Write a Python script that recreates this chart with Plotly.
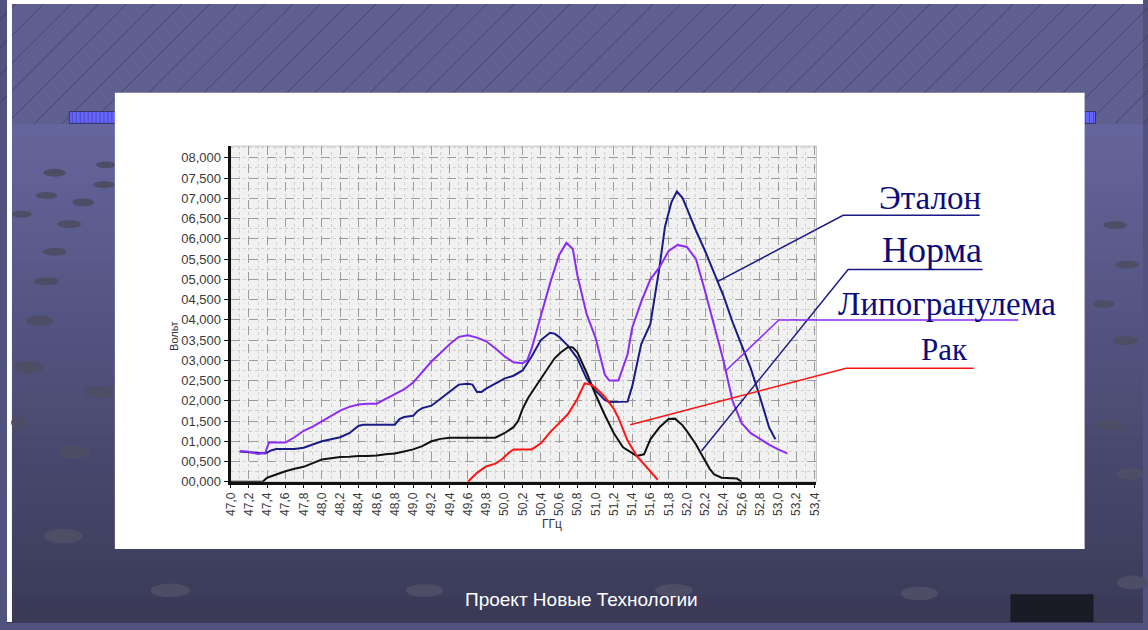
import plotly.graph_objects as go

# ---- spectra (GHz vs volts) ----
etalon_x = [47.1, 47.2, 47.3, 47.38, 47.45, 47.5, 47.7, 47.8, 47.9, 48.0, 48.1, 48.2, 48.3, 48.4, 48.45,
            48.8, 48.85, 48.9, 49.0, 49.05, 49.1, 49.2, 49.3, 49.4, 49.5, 49.6, 49.65, 49.7, 49.75, 49.8,
            49.9, 50.0, 50.1, 50.2, 50.3, 50.4, 50.5, 50.55, 50.6, 50.7, 50.8, 50.9, 51.0, 51.1, 51.15,
            51.3, 51.35, 51.4, 51.5, 51.6, 51.7, 51.76, 51.83, 51.89, 51.95, 52.0, 52.1, 52.2, 52.3, 52.4,
            52.5, 52.6, 52.7, 52.8, 52.9, 52.97]
etalon_y = [0.75, 0.73, 0.70, 0.70, 0.78, 0.81, 0.81, 0.84, 0.92, 1.00, 1.05, 1.10, 1.20, 1.38, 1.41,
            1.41, 1.55, 1.60, 1.63, 1.75, 1.82, 1.88, 2.05, 2.22, 2.40, 2.42, 2.40, 2.22, 2.22, 2.30,
            2.42, 2.55, 2.62, 2.75, 3.10, 3.50, 3.68, 3.66, 3.58, 3.35, 3.05, 2.55, 2.25, 2.02, 1.97,
            1.97, 1.98, 2.35, 3.40, 3.90, 5.30, 6.30, 6.90, 7.17, 7.02, 6.75, 6.20, 5.70, 5.15, 4.60,
            3.95, 3.35, 2.80, 2.10, 1.35, 1.05]

norma_x = [47.0, 47.35, 47.4, 47.5, 47.6, 47.7, 47.8, 47.9, 48.0, 48.1, 48.2, 48.3, 48.4, 48.5, 48.6,
           48.7, 48.8, 48.9, 49.0, 49.1, 49.2, 49.3, 49.4, 49.9, 50.0, 50.1, 50.15, 50.2, 50.26, 50.33,
           50.4, 50.48, 50.55, 50.62, 50.7, 50.75, 50.8, 50.9, 51.0, 51.1, 51.2, 51.3, 51.4, 51.45,
           51.53, 51.6, 51.7, 51.8, 51.87, 51.95, 52.0, 52.1, 52.15, 52.25, 52.3, 52.38, 52.55, 52.6]
norma_y = [0.0, 0.0, 0.10, 0.18, 0.26, 0.32, 0.37, 0.46, 0.55, 0.58, 0.61, 0.62, 0.64, 0.64, 0.65,
           0.68, 0.70, 0.75, 0.80, 0.88, 1.00, 1.06, 1.09, 1.09, 1.20, 1.35, 1.50, 1.80, 2.07, 2.31,
           2.55, 2.80, 3.05, 3.20, 3.33, 3.32, 3.20, 2.70, 2.15, 1.65, 1.20, 0.85, 0.70, 0.64,
           0.68, 1.05, 1.35, 1.55, 1.56, 1.40, 1.25, 0.92, 0.72, 0.32, 0.18, 0.10, 0.08, 0.0]

lipo_x = [47.1, 47.2, 47.3, 47.38, 47.42, 47.6, 47.7, 47.8, 47.9, 48.0, 48.1, 48.2, 48.3, 48.4, 48.5,
          48.6, 48.7, 48.8, 48.9, 49.0, 49.1, 49.2, 49.3, 49.4, 49.5, 49.6, 49.7, 49.8, 49.9, 50.0,
          50.1, 50.2, 50.25, 50.3, 50.4, 50.5, 50.6, 50.68, 50.75, 50.8, 50.9, 51.0, 51.1, 51.15, 51.25,
          51.3, 51.35, 51.4, 51.5, 51.6, 51.7, 51.8, 51.9, 52.0, 52.1, 52.2, 52.3, 52.4, 52.5, 52.6,
          52.7, 52.8, 52.9, 53.0, 53.1]
lipo_y = [0.76, 0.74, 0.69, 0.72, 0.97, 0.97, 1.10, 1.26, 1.36, 1.50, 1.62, 1.76, 1.85, 1.91, 1.93,
          1.93, 2.05, 2.17, 2.28, 2.45, 2.70, 2.97, 3.18, 3.40, 3.58, 3.62, 3.56, 3.47, 3.30, 3.10,
          2.95, 2.93, 3.00, 3.30, 4.10, 4.90, 5.60, 5.90, 5.75, 5.10, 4.15, 3.55, 2.65, 2.50, 2.50,
          2.85, 3.15, 3.80, 4.45, 5.00, 5.30, 5.70, 5.85, 5.80, 5.50, 4.70, 3.85, 3.00, 2.00, 1.45,
          1.20, 1.05, 0.92, 0.80, 0.70]

rak_x = [49.6, 49.7, 49.8, 49.9, 49.97, 50.05, 50.1, 50.3, 50.4, 50.5, 50.6, 50.7, 50.8, 50.88,
         50.95, 51.0, 51.1, 51.15, 51.2, 51.25, 51.3, 51.35, 51.45, 51.55, 51.62, 51.68]
rak_y = [0.0, 0.22, 0.38, 0.45, 0.55, 0.72, 0.80, 0.80, 0.95, 1.22, 1.45, 1.68, 2.05, 2.43,
         2.40, 2.32, 2.10, 1.95, 1.80, 1.58, 1.30, 1.02, 0.64, 0.38, 0.20, 0.05]

series_names = ["Эталон", "Норма", "Липогранулема", "Рак"]

# ---- axis ticks ----
x_tickvals = [round(47.0 + 0.2 * i, 1) for i in range(33)]
x_ticktext = [f"{v:.1f}".replace(".", ",") for v in x_tickvals]
y_tickvals = [0.5 * i for i in range(17)]
y_ticktext = [f"{v:06.3f}".replace(".", ",") for v in y_tickvals]

W, H = 1148, 630
X_RANGE = [47.0, 53.42]
Y_RANGE = [0.0, 8.29]
X_DOM = [226 / W, 818 / W]
Y_DOM = [1 - 488 / H, 1 - 148 / H]


def px(x):
    return x / W


def py(y):
    return 1 - y / H


def data_to_paper(x, y):
    xp = X_DOM[0] + (x - X_RANGE[0]) / (X_RANGE[1] - X_RANGE[0]) * (X_DOM[1] - X_DOM[0])
    yp = Y_DOM[0] + (y - Y_RANGE[0]) / (Y_RANGE[1] - Y_RANGE[0]) * (Y_DOM[1] - Y_DOM[0])
    return xp, yp


def hexmix(c1, c2, t):
    a = [int(c1[i:i + 2], 16) for i in (1, 3, 5)]
    b = [int(c2[i:i + 2], 16) for i in (1, 3, 5)]
    return "#" + "".join(f"{round(a[k] + (b[k] - a[k]) * t):02x}" for k in range(3))


shapes = []


def rect(x0, y0, x1, y1, color, line=None):
    shapes.append(dict(type="rect", xref="paper", yref="paper", layer="below",
                       x0=px(x0), x1=px(x1), y0=py(y1), y1=py(y0),
                       fillcolor=color, line=line or dict(width=0)))


def seg(x0, y0, x1, y1, color, width=1):
    shapes.append(dict(type="line", xref="paper", yref="paper", layer="below",
                       x0=px(x0), x1=px(x1), y0=py(y0), y1=py(y1),
                       line=dict(color=color, width=width)))


# slide background: vertical gradient bands
n_bands = 40
top, bottom = 125, 630
for i in range(n_bands):
    y0 = top + (bottom - top) * i / n_bands
    y1 = top + (bottom - top) * (i + 1) / n_bands + 1
    rect(0, y0, W, y1, hexmix("#65659d", "#3a3a57", i / (n_bands - 1)))

# hatched title band
rect(0, 4, W, 125, "#5f5f90")
for k in range(-6, 44):
    x0 = k * 28
    seg(x0, 125, x0 + 121, 4, "rgba(30,30,60,0.4)", 1)

# white border of the slide image
rect(0, 0, W, 4, "#ffffff")
rect(0, 0, 5, H, "#ffffff")

# decorative grey ovals
ovals = [(48, 175, 23, 8), (100, 167, 20, 7), (40, 198, 22, 7), (98, 187, 22, 7), (77, 205, 22, 8),
         (15, 217, 20, 7), (63, 227, 24, 8), (48, 255, 24, 8), (40, 285, 25, 8), (33, 325, 28, 10),
         (22, 372, 30, 12), (93, 397, 30, 12), (13, 428, 18, 12), (68, 458, 32, 14), (57, 543, 40, 15),
         (1120, 228, 24, 8), (1132, 268, 24, 8), (1108, 308, 22, 8), (1130, 345, 26, 9),
         (1115, 430, 28, 11), (1135, 480, 28, 12), (165, 598, 40, 14), (422, 598, 38, 13),
         (674, 598, 38, 13), (922, 601, 38, 14), (1137, 590, 30, 14)]
for cx, cy, w, h in ovals:
    shapes.append(dict(type="circle", xref="paper", yref="paper", layer="below",
                       x0=px(cx - w / 2), x1=px(cx + w / 2), y0=py(cy + h / 2), y1=py(cy - h / 2),
                       fillcolor="#4d4d66", line=dict(width=0)))

# blue strip peeking from behind the panel
rect(63, 113, 1100, 125, "#6666ff", line=dict(color="#333366", width=1))
for x in range(66, 1100, 4):
    seg(x, 114, x, 125, "rgba(50,50,140,0.6)", 1)

# dark corner box
rect(1014, 602, 1098, 630, "#1b1b27")

# white chart panel
rect(109, 94, 1089, 556, "#ffffff")

# plot area background and light frame
rect(226, 148, 818, 488, "#f1f1f1", line=dict(color="#c4c4c4", width=1))

fig = go.Figure()
line_specs = [
    (etalon_x, etalon_y, "#1b1b86", 2),
    (norma_x, norma_y, "#111111", 2),
    (lipo_x, lipo_y, "#8b2cf5", 2),
    (rak_x, rak_y, "#ff1414", 2),
]
for name, (xs, ys, color, w) in zip(series_names, line_specs):
    fig.add_trace(go.Scatter(x=xs, y=ys, mode="lines", name=name,
                             line=dict(color=color, width=w), showlegend=False))

# labels with leader lines pointing to each curve
labels = [
    # name, text centre px, font size, underline colour, underline x0,x1,y, curve point (data)
    ("Эталон", 933, 201, 33, "#1b1b86", 845, 983, 218, (52.34, 4.95)),
    ("Норма", 935, 253, 36, "#1b1b86", 850, 986, 273, (52.16, 0.76)),
    ("Липогранулема", 950, 308, 33, "#8b2cf5", 780, 1022, 324, (52.43, 2.75)),
    ("Рак", 947, 354, 31, "#ff1414", 848, 977, 373, (51.38, 1.41)),
]
annotations = []
for text, cx, cy, size, ucol, ux0, ux1, uy, (dx, dy) in labels:
    annotations.append(dict(text=text, x=px(cx), y=py(cy), xref="paper", yref="paper",
                            showarrow=False, xanchor="center", yanchor="middle",
                            font=dict(family="Liberation Serif", size=size, color="#0b0b7a")))
    ex, ey = data_to_paper(dx, dy)
    shapes.append(dict(type="path", xref="paper", yref="paper", layer="above",
                       path=f"M {px(ux1)} {py(uy)} L {px(ux0)} {py(uy)} L {ex} {ey}",
                       line=dict(color=ucol, width=1.5)))

annotations.append(dict(text="Вольт", x=px(168), y=py(340), xref="paper", yref="paper",
                        showarrow=False, textangle=-90, xanchor="center", yanchor="middle",
                        font=dict(family="Liberation Sans", size=11, color="#333333")))
annotations.append(dict(text="ГГц", x=px(551), y=py(531), xref="paper", yref="paper",
                        showarrow=False, xanchor="center", yanchor="middle",
                        font=dict(family="Liberation Sans", size=12, color="#333333")))
annotations.append(dict(text="Проект Новые Технологии", x=px(581), y=py(607), xref="paper",
                        yref="paper", showarrow=False, xanchor="center", yanchor="middle",
                        font=dict(family="Liberation Sans", size=19, color="#ffffff")))

y_tick_font = dict(family="Liberation Sans", size=13, color="#3a3a3a")
x_tick_font = dict(family="Liberation Sans", size=12, color="#3a3a3a")
fig.update_layout(
    width=W, height=H,
    margin=dict(l=0, r=0, t=0, b=0),
    paper_bgcolor="#52527e",
    plot_bgcolor="rgba(0,0,0,0)",
    shapes=shapes,
    annotations=annotations,
    xaxis=dict(domain=X_DOM, range=X_RANGE, tickmode="array", tickvals=x_tickvals,
               ticktext=x_ticktext, tickangle=-90, tickfont=x_tick_font,
               showline=True, linecolor="#111111", linewidth=3, ticks="outside", ticklen=3,
               tickcolor="#111111", showgrid=True, gridcolor="#9c9c9c", griddash="dash",
               gridwidth=1, zeroline=False,
               minor=dict(dtick=0.1, showgrid=True, gridcolor="#d0d0d0", griddash="dot")),
    yaxis=dict(domain=Y_DOM, range=Y_RANGE, tickmode="array", tickvals=y_tickvals,
               ticktext=y_ticktext, tickfont=y_tick_font,
               showline=True, linecolor="#111111", linewidth=3, ticks="outside", ticklen=4,
               tickcolor="#111111", showgrid=True, gridcolor="#9c9c9c", griddash="dash",
               gridwidth=1, zeroline=False,
               minor=dict(dtick=0.25, showgrid=True, gridcolor="#d0d0d0", griddash="dot")),
)

fig.write_html("out.html")
